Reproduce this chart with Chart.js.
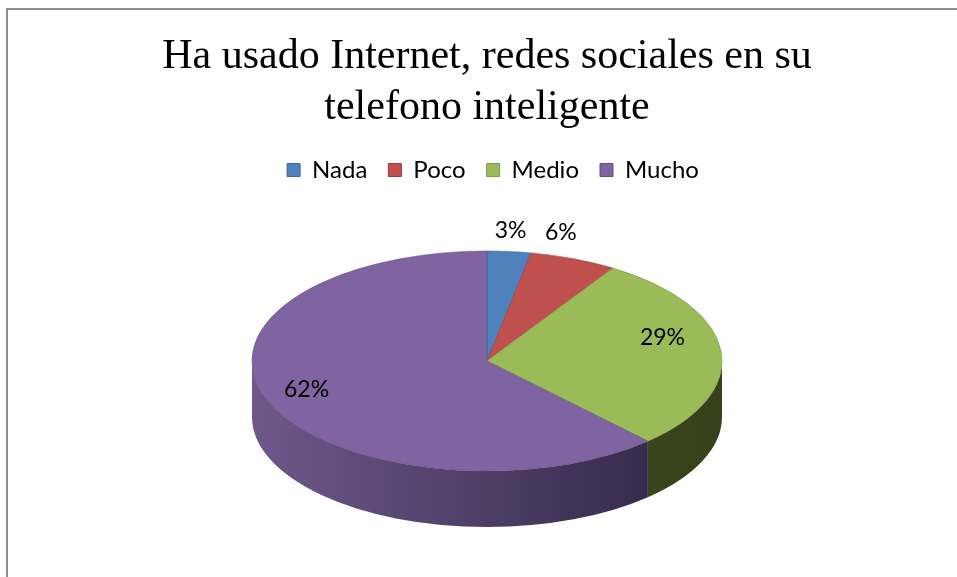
<!DOCTYPE html>
<html>
<head>
<meta charset="utf-8">
<script src="https://cdn.jsdelivr.net/npm/chart.js@4"></script>
<style>
  html, body { margin: 0; padding: 0; background: #fff; overflow: hidden; }
  #wrap { position: relative; width: 957px; height: 577px; }
  #frame { position: absolute; left: 6px; top: 8px; width: 1000px; height: 700px;
           border: 2px solid #8e8e8e; box-sizing: border-box; }
  canvas { position: absolute; left: 0; top: 0; }
</style>
</head>
<body>
<div id="wrap">
  <div id="frame"></div>
  <canvas id="myChart" width="957" height="577"></canvas>
</div>
<script>
// Data --------------------------------------------- { data }
const categories = ["Nada", "Poco", "Medio", "Mucho"];
const percentages = [3, 6, 29, 62];
const titleLines = ["Ha usado Internet, redes sociales en su", "telefono inteligente"];

// Styles
const topColors = ["#4f81bd", "#c0504d", "#9bbb59", "#8064a2"];
const edgeColors = ["#3a6597", "#9a3b39", "#7a9a40", "#644c85"];
const sideLeft = ["#3a5f8e", "#8f3a38", "#4a5a24", "#6e588b"];
const sideRight = ["#25405f", "#5e2524", "#34411a", "#2d2340"];
const labelRadius = [1.2, 1.2, 0.78, 0.78];
const labelNudge = [[-3, 1], [-30, -6], [-7, -15], [-10, -3]];

// Target ellipse of the 3D pie (screen px)
const PIE = { cx: 487, cy: 361, rx: 235, ry: 110, depth: 56 };
const LEGEND_SHIFT = 6;

const pie3d = {
  id: "pie3d",
  afterLayout(chart) {
    // legend sits a bit right of the title in the original
    chart.legend.left += LEGEND_SHIFT;
    chart.legend.right += LEGEND_SHIFT;
  },
  beforeDatasetsDraw(chart) {
    const ctx = chart.ctx;
    const meta = chart.getDatasetMeta(0);
    const arc0 = meta.data[0];
    // side walls (front half only) ------------- {}
    meta.data.forEach((arc, i) => {
      const a1 = Math.max(arc.startAngle, 0);
      const a2 = Math.min(arc.endAngle, Math.PI);
      if (a2 <= a1) return;
      const grad = ctx.createLinearGradient(PIE.cx - PIE.rx, 0, PIE.cx + PIE.rx, 0);
      grad.addColorStop(0, sideLeft[i]);
      grad.addColorStop(1, sideRight[i]);
      ctx.save();
      ctx.beginPath();
      ctx.ellipse(PIE.cx, PIE.cy, PIE.rx, PIE.ry, 0, a1, a2);
      ctx.lineTo(PIE.cx + PIE.rx * Math.cos(a2), PIE.cy + PIE.depth + PIE.ry * Math.sin(a2));
      ctx.ellipse(PIE.cx, PIE.cy + PIE.depth, PIE.rx, PIE.ry, 0, a2, a1, true);
      ctx.closePath();
      ctx.fillStyle = grad;
      ctx.fill();
      ctx.restore();
    });
    // squash the library's pie onto the top ellipse
    ctx.save();
    ctx.translate(PIE.cx, PIE.cy);
    ctx.scale(PIE.rx / arc0.outerRadius, PIE.ry / arc0.outerRadius);
    ctx.translate(-arc0.x, -arc0.y);
  },
  afterDatasetsDraw(chart) {
    const ctx = chart.ctx;
    ctx.restore();
    const meta = chart.getDatasetMeta(0);
    ctx.save();
    ctx.font = "23px Lato";
    ctx.fillStyle = "#000";
    ctx.textAlign = "center";
    ctx.textBaseline = "middle";
    meta.data.forEach((arc, i) => {
      const mid = (arc.startAngle + arc.endAngle) / 2;
      const r = labelRadius[i];
      const x = PIE.cx + PIE.rx * r * Math.cos(mid) + labelNudge[i][0];
      const y = PIE.cy + PIE.ry * r * Math.sin(mid) + labelNudge[i][1];
      ctx.fillText(percentages[i] + "%", x, y);
    });
    ctx.restore();
  },
};

Chart.defaults.color = "#000";

const ctx = document.getElementById("myChart").getContext("2d");
const myChart = new Chart(ctx, {
  type: "pie",
  data: {
    labels: categories,
    datasets: [
      {
        data: percentages,
        backgroundColor: topColors,
        borderColor: edgeColors,
        borderWidth: 0.6,
        clip: false,
      },
    ],
  },
  plugins: [pie3d],
  options: {
    responsive: false,
    animation: false,
    events: [],
    layout: {
      padding: { left: 17, right: 0, top: 0, bottom: 20 },
    },
    plugins: {
      title: {
        display: true,
        text: titleLines,
        color: "#000",
        font: { family: "Liberation Serif", size: 42, weight: "normal", lineHeight: 1.215 },
        padding: { top: 31, bottom: 4 },
      },
      legend: {
        position: "top",
        labels: {
          font: { family: "Lato", size: 24 },
          color: "#000",
          boxWidth: 13,
          boxHeight: 13,
          padding: 21,
          generateLabels(chart) {
            const items = Chart.overrides.pie.plugins.legend.labels.generateLabels(chart);
            return items.map((it, i) => ({ ...it, strokeStyle: edgeColors[i], lineWidth: 1 }));
          },
        },
      },
      tooltip: { enabled: false },
    },
  },
});
</script>
</body>
</html>
